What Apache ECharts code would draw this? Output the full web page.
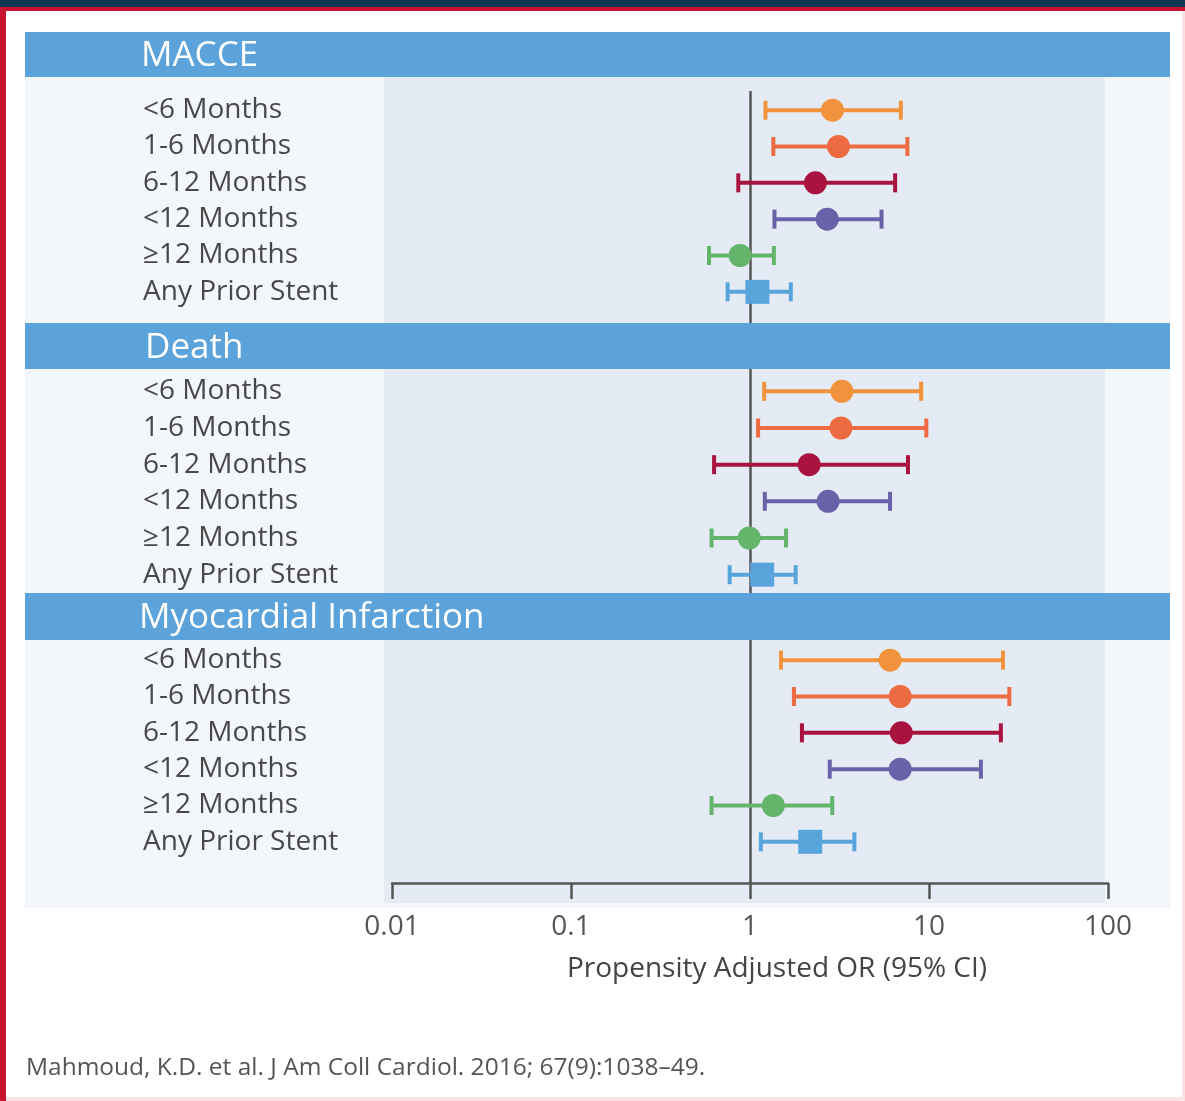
<!DOCTYPE html>
<html>
<head>
<meta charset="utf-8">
<title>Prior stent timing and adjusted odds ratios</title>
<script src="https://cdn.jsdelivr.net/npm/echarts@6/dist/echarts.min.js"></script>
<style>
  html, body { margin: 0; padding: 0; background: #ffffff; }
  #chart { width: 1185px; height: 1101px; }
</style>
</head>
<body>
<div id="chart"></div>
<script>
// ---- data ----
const groupTitles = ['MACCE', 'Death', 'Myocardial Infarction'];
const rowLabels = ['<6 Months', '1-6 Months', '6-12 Months', '<12 Months', '\u226512 Months', 'Any Prior Stent'];
const tickValues = [0.01, 0.1, 1, 10, 100];
const axisTitle = 'Propensity Adjusted OR (95% CI)';
const citation = 'Mahmoud, K.D. et al. J Am Coll Cardiol. 2016; 67(9):1038\u201349.';

// odds ratio, lower and upper 95% CI per row
const macceOR   = [2.89, 3.12, 2.32, 2.70, 0.88, 1.10];
const macceLow  = [1.22, 1.35, 0.86, 1.37, 0.59, 0.75];
const macceHigh = [6.96, 7.57, 6.47, 5.43, 1.36, 1.69];

const deathOR   = [3.26, 3.22, 2.14, 2.73, 0.99, 1.17];
const deathLow  = [1.20, 1.11, 0.63, 1.21, 0.61, 0.77];
const deathHigh = [9.04, 9.66, 7.63, 6.06, 1.59, 1.80];

const miOR   = [6.06, 6.90, 7.00, 6.90, 1.35, 2.17];
const miLow  = [1.49, 1.76, 1.95, 2.79, 0.61, 1.15];
const miHigh = [25.9, 28.1, 25.2, 19.5, 2.88, 3.83];

const rowColors = ['#f1923c', '#ec6b40', '#a9133f', '#6a62a8', '#64b56b', '#58a5dc'];

// ---- layout ----
const W = 1185;
const plotLeft = 392, plotRight = 77;
const groupGrids = [
  { top: 92, height: 218 },
  { top: 373, height: 220 },
  { top: 642, height: 218 }
];
const bandTops = [32, 323, 593];
const bandHeights = [45, 46, 47];
const textColor = '#484848';
const fontFamily = '"Open Sans", "Noto Sans", sans-serif';

const groups = [
  [macceLow, macceOR, macceHigh],
  [deathLow, deathOR, deathHigh],
  [miLow, miOR, miHigh]
];

function makeRows(g) {
  const [lo, est, hi] = g;
  return rowLabels.map((_, i) => [lo[i], est[i], hi[i], i]);
}

// one confidence interval: whisker line, end caps and a marker (square for the last row)
function renderCI(params, api) {
  const row = api.value(3);
  const pLo = api.coord([api.value(0), row]);
  const pEst = api.coord([api.value(1), row]);
  const pHi = api.coord([api.value(2), row]);
  const color = rowColors[row];
  const capH = 19;
  const lw = 4;
  const children = [
    { type: 'line', shape: { x1: pLo[0], y1: pEst[1], x2: pHi[0], y2: pEst[1] },
      style: { stroke: color, lineWidth: lw } },
    { type: 'line', shape: { x1: pLo[0], y1: pEst[1] - capH / 2, x2: pLo[0], y2: pEst[1] + capH / 2 },
      style: { stroke: color, lineWidth: lw } },
    { type: 'line', shape: { x1: pHi[0], y1: pEst[1] - capH / 2, x2: pHi[0], y2: pEst[1] + capH / 2 },
      style: { stroke: color, lineWidth: lw } }
  ];
  if (row === rowLabels.length - 1) {
    children.push({ type: 'rect', shape: { x: pEst[0] - 12, y: pEst[1] - 12, width: 24, height: 24 },
      style: { fill: color } });
  } else {
    children.push({ type: 'circle', shape: { cx: pEst[0], cy: pEst[1], r: 11.5 },
      style: { fill: color } });
  }
  return { type: 'group', children };
}

const grids = [{ left: plotLeft, right: plotRight, top: 91, bottom: 1101 - 883 }];
const xAxes = [{
  type: 'log', logBase: 10, min: 0.01, max: 100, gridIndex: 0,
  axisLine: { show: true, lineStyle: { color: '#555', width: 2.5 } },
  axisTick: { show: true, inside: false, length: 16, lineStyle: { color: '#555', width: 2.5 } },
  minorTick: { show: false },
  splitLine: { show: false },
  axisLabel: {
    margin: 30, fontSize: 28, color: '#555', fontFamily,
    formatter: v => {
      const hit = tickValues.find(t => Math.abs(Math.log10(t) - Math.log10(v)) < 1e-6);
      return hit === undefined ? '' : String(hit);
    }
  },
  name: axisTitle, nameLocation: 'middle', nameGap: 72,
  nameTextStyle: { fontSize: 28, color: '#444', fontFamily, fontWeight: 500, padding: [0, 0, 0, 54] }
}];
const yAxes = [{ type: 'value', gridIndex: 0, min: 0, max: 1, show: false }];
const series = [{
  type: 'line', xAxisIndex: 0, yAxisIndex: 0, data: [], silent: true,
  markLine: {
    symbol: 'none', silent: true, label: { show: false },
    lineStyle: { color: '#555', width: 2.5, type: 'solid' },
    data: [{ xAxis: 1 }]
  }
}];

groupGrids.forEach((gg, k) => {
  grids.push({ left: plotLeft, right: plotRight, top: gg.top, height: gg.height });
  xAxes.push({ type: 'log', logBase: 10, min: 0.01, max: 100, gridIndex: k + 1, show: false });
  yAxes.push({
    type: 'category', gridIndex: k + 1, data: rowLabels, inverse: true,
    axisLine: { show: false }, axisTick: { show: false }, splitLine: { show: false },
    axisLabel: { interval: 0, align: 'left', margin: plotLeft - 143, fontSize: 28, color: textColor, fontFamily }
  });
  series.push({
    type: 'custom', xAxisIndex: k + 1, yAxisIndex: k + 1, z: 5,
    renderItem: renderCI,
    encode: { x: [0, 1, 2], y: 3 },
    data: makeRows(groups[k])
  });
});

// frame, panels and section headers
const graphics = [
  { type: 'rect', z: -20, shape: { x: 0, y: 0, width: W, height: 1101 }, style: { fill: '#ffffff' } },
  { type: 'rect', z: -19, shape: { x: 25, y: 32, width: 1145, height: 876 }, style: { fill: '#f3f6fa' } },
  { type: 'rect', z: -18, shape: { x: 384, y: 77, width: 721, height: 826 }, style: { fill: '#e5ebf4' } },
  { type: 'rect', z: 50, shape: { x: 0, y: 0, width: W, height: 7 }, style: { fill: '#113a52' } },
  { type: 'rect', z: 50, shape: { x: 0, y: 7, width: W, height: 4 }, style: { fill: '#c8142f' } },
  { type: 'rect', z: 50, shape: { x: 0, y: 7, width: 6, height: 1094 }, style: { fill: '#c8142f' } },
  { type: 'rect', z: 50, shape: { x: 1182, y: 11, width: 3, height: 1090 }, style: { fill: '#fbe3e3' } },
  { type: 'rect', z: 50, shape: { x: 6, y: 1097, width: 1179, height: 4 }, style: { fill: '#fbe1e1' } },
  { type: 'text', z: 50, x: 26, y: 1068,
    style: { text: citation, fontSize: 24.5, fill: '#555', fontFamily, textVerticalAlign: 'middle' } }
];
const titleX = [141, 145, 139];
groupTitles.forEach((t, k) => {
  graphics.push({ type: 'rect', z: 40, shape: { x: 25, y: bandTops[k], width: 1145, height: bandHeights[k] },
    style: { fill: '#5ba3da' } });
  graphics.push({ type: 'text', z: 41, x: titleX[k], y: bandTops[k] + bandHeights[k] / 2 + 2,
    style: { text: t, fontSize: 35, fill: '#ffffff', fontFamily, textVerticalAlign: 'middle' } });
});

const chart = echarts.init(document.getElementById('chart'), null, { renderer: 'canvas' });
chart.setOption({
  animation: false,
  backgroundColor: '#ffffff',
  grid: grids,
  xAxis: xAxes,
  yAxis: yAxes,
  series,
  graphic: { elements: graphics }
});
</script>
</body>
</html>
